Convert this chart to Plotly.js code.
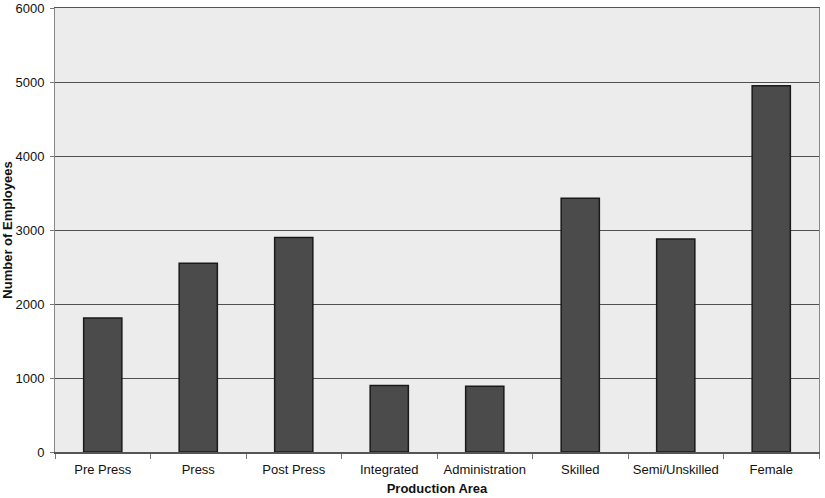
<!DOCTYPE html>
<html>
<head>
<meta charset="utf-8">
<script src="https://cdn.plot.ly/plotly-3.0.1.min.js"></script>
<style>html,body{margin:0;padding:0;background:#fff;}</style>
</head>
<body>
<div id="chart" style="width:825px;height:498px;"></div>
<script>
const categories = ["Pre Press", "Press", "Post Press", "Integrated", "Administration", "Skilled", "Semi/Unskilled", "Female"];
const employees = [1810, 2550, 2900, 900, 890, 3430, 2880, 4950];
const yTicks = [0, 1000, 2000, 3000, 4000, 5000, 6000];

const trace = {
  type: "bar",
  x: categories,
  y: employees,
  width: 0.4,
  marker: { color: "#4b4b4b", line: { color: "#1a1a1a", width: 1.5 } },
  hoverinfo: "x+y"
};

const layout = {
  width: 825, height: 498,
  margin: { l: 55, r: 6, t: 8, b: 46 },
  paper_bgcolor: "#ffffff",
  plot_bgcolor: "#ececec",
  showlegend: false,
  font: { family: "Liberation Sans, Arial, sans-serif", size: 13, color: "#111" },
  xaxis: {
    type: "category",
    tickson: "boundaries",
    ticks: "outside", ticklen: 5, tickcolor: "#777",
    ticklabelstandoff: 5,
    showgrid: false,
    showline: true, linecolor: "#555", linewidth: 1.5, mirror: true,
    tickfont: { size: 13 },
    title: { text: "<b>Production Area</b>", font: { size: 13 }, standoff: 8 }
  },
  yaxis: {
    range: [0, 6000],
    tickvals: yTicks,
    ticks: "outside", ticklen: 4, tickcolor: "#777",
    ticklabeloverflow: "allow",
    ticklabelstandoff: 3,
    showgrid: true, gridcolor: "#505050", gridwidth: 1,
    showline: true, linecolor: "#888", linewidth: 1, mirror: true,
    zeroline: false,
    tickfont: { size: 13 },
    title: { text: "<b>Number of Employees</b>", font: { size: 13 }, standoff: 5 }
  }
};

Plotly.newPlot("chart", [trace], layout, { displayModeBar: false, staticPlot: true });
</script>
</body>
</html>
